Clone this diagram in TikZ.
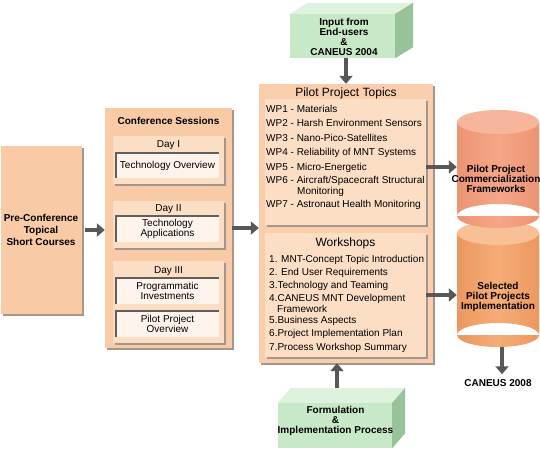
\documentclass[tikz,border=0pt]{standalone}
\usepackage{fontspec}
\setmainfont{Liberation Sans}
\usetikzlibrary{arrows.meta}
\definecolor{peach}{RGB}{248,202,165}
\definecolor{pilotc}{RGB}{250,206,172}
\definecolor{panelc}{RGB}{252,222,196}
\definecolor{innerc}{RGB}{254,244,236}
\definecolor{shadowc}{RGB}{165,150,140}
\definecolor{insetc}{RGB}{95,95,95}
\definecolor{arrowc}{RGB}{88,88,88}
\definecolor{gfront}{RGB}{200,233,200}
\definecolor{gtop}{RGB}{222,243,222}
\definecolor{gside}{RGB}{152,194,152}
\definecolor{cylAmid}{RGB}{245,166,136}
\definecolor{cylAedge}{RGB}{236,148,116}
\definecolor{cylAtop}{RGB}{247,182,155}
\definecolor{cylBmid}{RGB}{245,172,118}
\definecolor{cylBedge}{RGB}{236,152,96}
\definecolor{cylBtop}{RGB}{248,192,148}
\tikzset{
 shadowed/.style={preaction={fill=shadowc, transform canvas={xshift=1.5pt,yshift=-1.5pt}}},
 outerbox/.style={fill=peach, shadowed, inner sep=0pt},
 pilotbox/.style={fill=pilotc, shadowed, inner sep=0pt},
 panel/.style={fill=panelc, shadowed, inner sep=0pt},
 innerbox/.style={fill=innerc, inner sep=0pt, align=center, font=\fontsize{10}{10}\selectfont},
 txt/.style={inner sep=0pt, align=center, font=\fontsize{10}{10}\selectfont},
 btxt/.style={inner sep=0pt, align=center, font=\bfseries\fontsize{10}{10}\selectfont},
 item/.style={inner sep=0pt, anchor=west, font=\fontsize{10}{10}\selectfont},
 ttl/.style={inner sep=0pt, font=\fontsize{12}{12}\selectfont},
 inset/.style={draw=insetc, line width=1.4pt},
 blockarrow/.style={draw=arrowc, line width=4.5pt, -{Triangle[length=8pt,width=13pt]}},
 gbox/.style={fill=gfront, inner sep=0pt},
 ghost/.style={inner sep=0pt, minimum width=#1},
}
\begin{document}
\begin{tikzpicture}[x=1pt,y=-1pt]
\useasboundingbox[fill=white] (0,0) rectangle (540,450);

% ---------- Pre-conference ----------
\node[outerbox, minimum width=81pt, minimum height=168pt] (pre) at (41.5,230) {};
\node[btxt, font=\bfseries\fontsize{10}{12}\selectfont] (pretxt) at (41,230) {Pre-Conference\\Topical\\Short Courses};

% ---------- Conference sessions ----------
\node[outerbox, minimum width=127pt, minimum height=240pt] (conf) at (168.5,228) {};
\node[btxt] (conft) at (168.5,121) {Conference Sessions};

\node[panel, minimum width=111pt, minimum height=48pt] (d1) at (168.5,160) {};
\node[txt] (d1t) at (168.5,145) {Day I};
\node[innerbox, minimum width=103pt, minimum height=25pt] (in1) at (167.5,165.5) {Technology Overview};

\node[panel, minimum width=111pt, minimum height=47pt] (d2) at (168.5,224.5) {};
\node[txt] (d2t) at (168.5,209) {Day II};
\node[innerbox, minimum width=103pt, minimum height=26pt] (in2) at (167.5,229) {Technology\\Applications};

\node[panel, minimum width=111pt, minimum height=82pt] (d3) at (168.5,302) {};
\node[txt] (d3t) at (168.5,271) {Day III};
\node[innerbox, minimum width=103pt, minimum height=26pt] (in3) at (167.5,291) {Programmatic\\Investments};
\node[innerbox, minimum width=103pt, minimum height=26pt] (in4) at (167.5,324) {Pilot Project\\Overview};

\foreach \b in {in1,in2,in3,in4}{
  \draw[inset] (\b.south west) -- (\b.north west) -- (\b.north east);
}

% ---------- Pilot project box ----------
\node[pilotbox, minimum width=174pt, minimum height=279pt] (pilot) at (346,223.5) {};
\node[ttl] (ppt) at (346,93) {Pilot Project Topics};
\node[panel, minimum width=161pt, minimum height=126pt] (wp) at (345.5,162) {};
\node[item] (wp1) at (266,109) {WP1 - Materials};
\node[item] (wp2) at (266,123) {WP2 - Harsh Environment Sensors};
\node[item] (wp3) at (266,138) {WP3 - Nano-Pico-Satellites};
\node[item] (wp4) at (266,153) {WP4 - Reliability of MNT Systems};
\node[item] (wp5) at (266,168) {WP5 - Micro-Energetic};
\node[item] (wp6) at (266,181) {WP6 - Aircraft/Spacecraft Structural};
\node[item] (wp6b) at (297,192) {Monitoring};
\node[item] (wp7) at (266,205) {WP7 - Astronaut Health Monitoring};

\node[panel, minimum width=161pt, minimum height=124pt] (ws) at (345.5,295) {};
\node[ttl] (wst) at (345.5,243) {Workshops};
\node[item] (ws1) at (269,260) {1. MNT-Concept Topic Introduction};
\node[item] (ws2) at (269,273) {2. End User Requirements};
\node[item] (ws3) at (269,286) {3.Technology and Teaming};
\node[item] (ws4) at (269,299) {4.CANEUS MNT Development};
\node[item] (ws4b) at (277,309) {Framework};
\node[item] (ws5) at (269,321) {5.Business Aspects};
\node[item] (ws6) at (269,334) {6.Project Implementation Plan};
\node[item] (ws7) at (269,348) {7.Process Workshop Summary};

% ---------- Green boxes ----------
\node[gbox, minimum width=105pt, minimum height=44pt] (input) at (342.5,36) {};
\fill[gtop] (input.north west) -- ++(18,-11) -- ([shift={(18,-11)}]input.north east) -- (input.north east) -- cycle;
\fill[gside] (input.north east) -- ++(18,-11) -- ([shift={(18,-11)}]input.south east) -- (input.south east) -- cycle;
\node[btxt] (inputt) at (344,37) {Input from\\End-users\\\&\\CANEUS 2004};

\node[gbox, minimum width=114pt, minimum height=45pt] (form) at (335,425.5) {};
\fill[gtop] (form.north west) -- ++(13,-15) -- ([shift={(13,-15)}]form.north east) -- (form.north east) -- cycle;
\fill[gside] (form.north east) -- ++(13,-15) -- ([shift={(13,-15)}]form.south east) -- (form.south east) -- cycle;
\node[btxt] (formt) at (335.5,421) {Formulation\\\&\\Implementation Process};
\coordinate (formtop) at (337,388);

% ---------- Cylinders ----------
\path[left color=cylBedge, right color=cylBedge, middle color=cylBmid]
  (457,233) rectangle (539,335) (498,335) ellipse [x radius=41, y radius=12];
\fill[cylBtop] (498,233) ellipse [x radius=41, y radius=12];
\path[left color=cylAedge, right color=cylAedge, middle color=cylAmid]
  (457,122) rectangle (539,216) (498,216) ellipse [x radius=41, y radius=12];
\fill[cylAtop] (498,122) ellipse [x radius=41, y radius=12];

\node[ghost=82pt, minimum height=118pt] (cyl1) at (498,169) {};
\node[ghost=82pt, minimum height=114pt] (cyl2) at (498,290) {};
\node[btxt] (cyl1t) at (496,179) {Pilot Project\\Commercialization\\Frameworks};
\node[btxt] (cyl2t) at (498,297) {Selected\\Pilot Projects\\Implementation};
\node[btxt] (caneus) at (498,383) {CANEUS 2008};

% ---------- Arrows ----------
\draw[blockarrow, shorten <=3pt] (pre.east) -- (pre.east -| conf.west);
\draw[blockarrow] (conf.east) -- (conf.east -| pilot.west);
\draw[blockarrow] (input.south -| pilot.north) -- (pilot.north);
\draw[blockarrow] (formtop) -- (formtop |- pilot.south);
\draw[blockarrow] ([yshift=-5pt]wp.east) -- ([yshift=-5pt]wp.east -| cyl1.west);
\draw[blockarrow] (ws.east) -- (ws.east -| cyl2.west);
\draw[blockarrow] ([xshift=4pt]cyl2.south) -- ([xshift=4pt,yshift=5pt]cyl2.south |- caneus.north);
\end{tikzpicture}
\end{document}
